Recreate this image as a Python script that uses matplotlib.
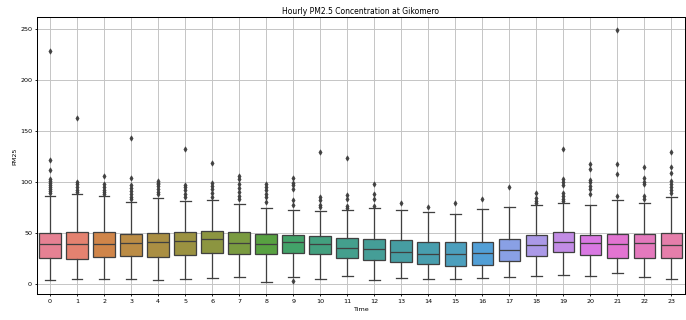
import numpy as np
import matplotlib
matplotlib.use("Agg")
import matplotlib.pyplot as plt
import seaborn as sns

# Box statistics per hour
hours = list(range(24))
q1 = [25.6, 24.9, 26.2, 27.2, 26.2, 28.2, 30.5, 29.5, 29.5, 30.5, 28.9, 25.2,
      23.3, 21.3, 19.7, 18.0, 19.0, 22.3, 27.5, 31.5, 28.5, 25.6, 25.6, 25.6]
med = [39.0, 39.3, 39.3, 40.0, 41.0, 42.0, 43.6, 40.3, 39.3, 40.7, 38.7, 35.4,
       33.8, 31.5, 29.8, 29.8, 30.2, 33.4, 38.4, 40.7, 39.7, 39.0, 39.7, 38.4]
q3 = [50.2, 51.1, 51.1, 49.2, 50.2, 50.8, 51.8, 51.1, 49.2, 48.2, 46.6, 44.6,
      43.6, 42.6, 41.6, 41.6, 41.6, 44.3, 48.2, 50.8, 48.2, 49.2, 48.5, 49.5]
whislo = [3.9, 5.2, 5.2, 4.6, 4.3, 5.2, 5.9, 6.9, 2.0, 6.9, 5.2, 7.5,
          3.9, 5.9, 5.2, 4.9, 5.9, 6.6, 7.5, 8.5, 7.5, 11.1, 7.2, 4.6]
whishi = [86.6, 88.5, 86.2, 80.7, 84.3, 81.6, 82.6, 78.7, 74.4, 72.8, 71.1, 72.5,
          74.1, 72.8, 70.8, 68.2, 73.1, 75.4, 77.7, 79.3, 77.4, 82.6, 79.3, 84.9]
fliers = [
    [228, 122, 112, 103, 101, 99, 97, 95, 93, 91, 89],
    [163, 100, 98, 95, 92, 90],
    [106, 98, 95, 92, 90, 88],
    [143, 104, 97, 94, 91, 88, 85, 83],
    [101, 99, 98, 96, 93, 90, 88],
    [132, 97, 95, 92, 88, 85],
    [119, 99, 96, 93, 89, 85],
    [106, 103, 98, 94, 90, 86, 83],
    [98, 95, 92, 88, 85, 80],
    [104, 99, 97, 93, 82, 77, 2.6],
    [129, 85, 82, 77, 75],
    [123, 87, 83, 76, 74],
    [98, 88, 83, 76],
    [79],
    [75],
    [79],
    [83],
    [95],
    [89, 84, 81, 79],
    [132, 103, 100, 97, 89, 86, 83, 81],
    [118, 113, 102, 100, 96, 93, 88],
    [249, 118, 108, 86],
    [115, 104, 100, 98, 86, 83],
    [129, 115, 109, 101, 98, 95, 92, 89],
]

stats = []
for i in range(len(hours)):
    stats.append({"med": med[i], "q1": q1[i], "q3": q3[i],
                  "whislo": whislo[i], "whishi": whishi[i],
                  "fliers": fliers[i]})

colors = [sns.desaturate(c, 0.75) for c in sns.color_palette("husl", len(hours))]
gray = "#404040"
lw = 2.0

fig = plt.figure(figsize=(15, 7), dpi=686 / 15)
ax = fig.add_axes([36.5 / 686, 25.5 / 320, (685 - 36.5) / 686, (295 - 18) / 320])
bp = ax.bxp(stats, positions=hours, widths=0.8, patch_artist=True,
            boxprops=dict(edgecolor=gray, linewidth=lw),
            medianprops=dict(color=gray, linewidth=lw),
            whiskerprops=dict(color=gray, linewidth=lw),
            capprops=dict(color=gray, linewidth=lw),
            flierprops=dict(marker="d", markerfacecolor=gray,
                            markeredgecolor=gray, markersize=6))
for patch, c in zip(bp["boxes"], colors):
    patch.set_facecolor(c)

ax.set_xlim(-0.5, len(hours) - 0.5)
ax.set_xticks(hours)
ax.set_xticklabels([str(h) for h in hours])
ax.set_xlabel("Time")
ax.set_ylabel("PM25")
ax.set_title("Hourly PM2.5 Concentration at Gikomero")
ax.grid(True, color="#c4c4c4", linewidth=1.5)
for s in ax.spines.values():
    s.set_linewidth(1.6)
ax.tick_params(width=1.3)
plt.savefig("out.png")
